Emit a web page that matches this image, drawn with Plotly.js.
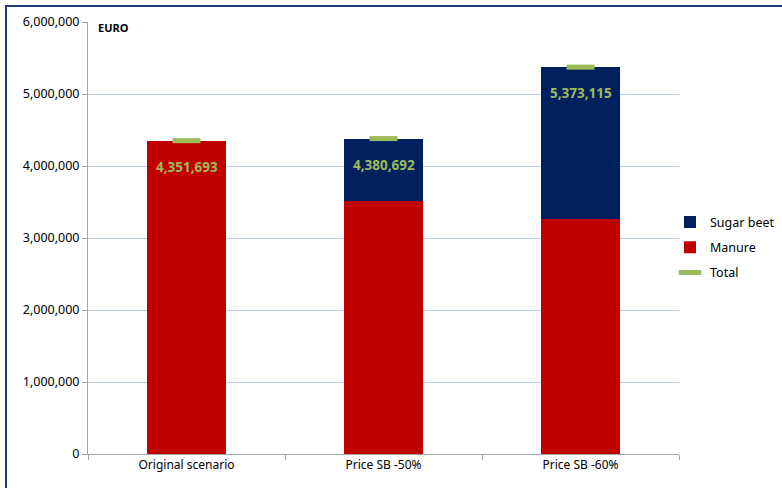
<!DOCTYPE html>
<html><head><meta charset="utf-8">
<script src="https://cdn.plot.ly/plotly-3.0.1.min.js"></script>
<style>
html,body{margin:0;padding:0;background:#fff;overflow:hidden;width:782px;height:488px;}
#frame{position:absolute;left:5px;top:5px;width:790px;height:500px;border:2px solid #1F3A7A;box-sizing:border-box;}
#chart{position:absolute;left:0;top:0;width:782px;height:488px;}
</style></head>
<body>
<div id="frame"></div>
<div id="chart"></div>
<script>
const categories = ["Original scenario", "Price SB -50%", "Price SB -60%"];
const manure = [4351693, 3514000, 3260000];
const sugarBeet = [0, 866692, 2113115];
const total = [4351693, 4380692, 5373115];
const totalLabels = ["4,351,693", "4,380,692", "5,373,115"];
const yTicks = [0, 1000000, 2000000, 3000000, 4000000, 5000000, 6000000];
const yTickLabels = ["0", "1,000,000", "2,000,000", "3,000,000", "4,000,000", "5,000,000", "6,000,000"];

const font = "Noto Sans, sans-serif";
const green = "#9BBB59";

const traces = [
  {type:"bar", name:"Manure", legendrank:2, legendgroup:"m", x:categories, y:manure, marker:{color:"#C00000"}, hoverinfo:"skip"},
  {type:"bar", name:"Sugar beet", legendrank:1, legendgroup:"s", x:categories, y:sugarBeet, marker:{color:"#002060"}, hoverinfo:"skip"},
  {type:"scatter", mode:"markers", name:"Total", legendrank:3, legendgroup:"t", x:categories, y:total,
   marker:{symbol:"line-ew", size:20, line:{width:5, color:green}, color:green}, hoverinfo:"skip"}
];

const annotations = categories.map((c,i)=>({
  x:c, y:total[i], xref:"x", yref:"y", text:"<b>"+totalLabels[i]+"</b>", showarrow:false,
  yshift:-26, font:{family:font, size:13.5, color:green}
}));
annotations.push({xref:"paper", yref:"paper", x:0.012, y:1, xanchor:"left", yanchor:"middle", yshift:-5,
  text:"<b>EURO</b>", showarrow:false, bgcolor:"#fff", font:{family:font, size:11, color:"#000"}, borderpad:2});

const W = 782;
const layout = {
  width:W, height:488,
  margin:{l:88, r:W-679, t:22, b:34, autoexpand:false},
  paper_bgcolor:"rgba(0,0,0,0)", plot_bgcolor:"#fff",
  barmode:"stack", bargap:0.6,
  showlegend:true,
  legend:{xref:"container", yref:"container", x:670/W, y:0.493, xanchor:"left", yanchor:"middle", traceorder:"grouped",
    font:{family:font, size:12.5, color:"#000"}, itemwidth:30, tracegroupgap:6, bgcolor:"rgba(0,0,0,0)"},
  xaxis:{type:"category", tickson:"boundaries", ticks:"outside", ticklen:5, tickcolor:"#A6A6A6",
    showline:true, linecolor:"#A6A6A6", showgrid:false, automargin:false,
    tickfont:{family:font, size:12, color:"#000"}},
  yaxis:{range:[0,6000000], tickvals:yTicks, ticktext:yTickLabels, ticks:"outside", ticklen:5, automargin:false,
    tickcolor:"#A6A6A6", showline:true, linecolor:"#A6A6A6", gridcolor:"#B9CDE5", zeroline:false,
    tickfont:{family:font, size:12.5, color:"#000"}},
  annotations:annotations,
  font:{family:font}
};
Plotly.newPlot("chart", traces, layout, {displayModeBar:false, staticPlot:true});
</script>
</body></html>
